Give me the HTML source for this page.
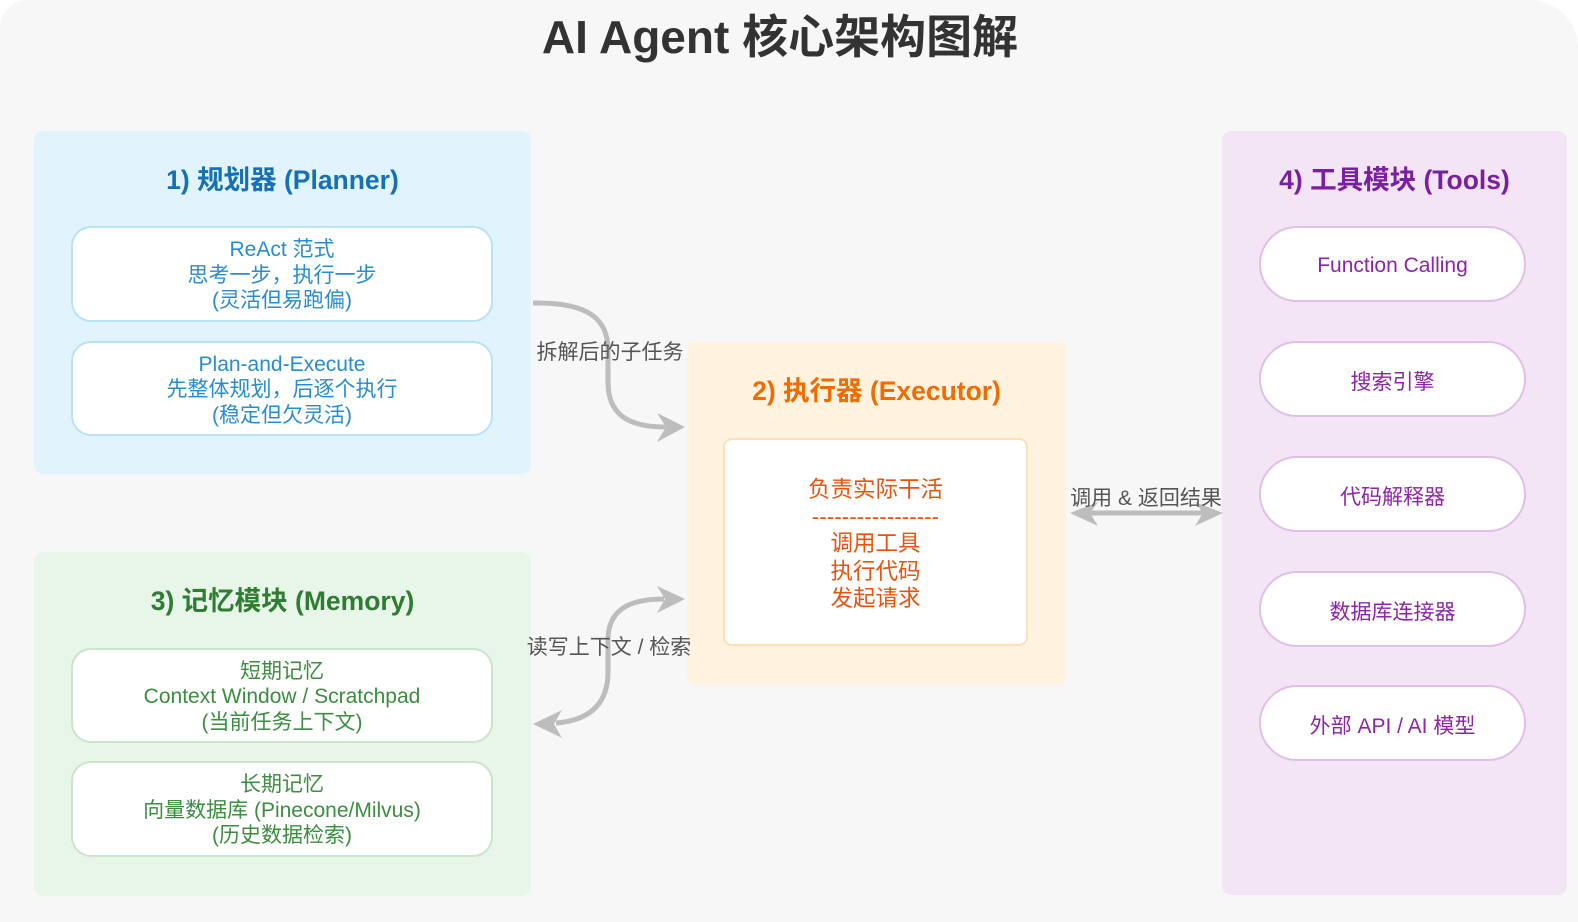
<!DOCTYPE html>
<html>
<head>
<meta charset="utf-8">
<style>
  html,body{margin:0;padding:0;background:#ffffff;}
  body{width:1578px;height:922px;position:relative;overflow:hidden;
    font-family:"Liberation Sans","Noto Sans CJK SC",sans-serif;}
  .container{position:absolute;left:0;top:0;width:1578px;height:922px;background:#f7f7f7;
    border-radius:28px 48px 0 0;}
  .title{position:absolute;left:0;top:10px;width:1560px;text-align:center;font-size:46px;font-weight:bold;
    color:#333333;line-height:54px;}
  .panel{position:absolute;border-radius:9px;}
  .ptitle{position:absolute;left:0;width:100%;text-align:center;font-weight:bold;font-size:26.5px;line-height:32px;}
  .box{position:absolute;background:#ffffff;border:2px solid;box-sizing:border-box;border-radius:20px;
    display:flex;flex-direction:column;justify-content:center;align-items:center;text-align:center;
    font-size:21px;line-height:25.5px;padding-top:3px;}
  .pill{position:absolute;left:37px;width:267px;height:76px;background:#fff;border:2px solid #e1bee7;
    box-sizing:border-box;border-radius:38px;display:flex;align-items:center;justify-content:center;
    font-size:21px;color:#8e24aa;padding-top:4px;}
</style>
</head>
<body>
<div class="container"></div>
<div class="title">AI Agent 核心架构图解</div>

<!-- Planner -->
<div class="panel" style="left:34px;top:131px;width:497px;height:343px;background:#e1f3fd;">
  <div class="ptitle" style="top:33px;color:#1670b5;">1) 规划器 (Planner)</div>
  <div class="box" style="left:37px;top:95px;width:422px;height:96px;border-color:#b8e2f8;color:#288cd2;">
    <div>ReAct 范式</div><div>思考一步，执行一步</div><div>(灵活但易跑偏)</div>
  </div>
  <div class="box" style="left:37px;top:210px;width:422px;height:95px;border-color:#b8e2f8;color:#288cd2;">
    <div>Plan-and-Execute</div><div>先整体规划，后逐个执行</div><div>(稳定但欠灵活)</div>
  </div>
</div>

<!-- Memory -->
<div class="panel" style="left:34px;top:552px;width:497px;height:344px;background:#e8f5e9;">
  <div class="ptitle" style="top:33px;color:#2e7d32;">3) 记忆模块 (Memory)</div>
  <div class="box" style="left:37px;top:96px;width:422px;height:95px;border-color:#c8e6c9;color:#3a8e3e;">
    <div>短期记忆</div><div>Context Window / Scratchpad</div><div>(当前任务上下文)</div>
  </div>
  <div class="box" style="left:37px;top:209px;width:422px;height:96px;border-color:#c8e6c9;color:#3a8e3e;">
    <div>长期记忆</div><div>向量数据库 (Pinecone/Milvus)</div><div>(历史数据检索)</div>
  </div>
</div>

<!-- Executor -->
<div class="panel" style="left:687px;top:342px;width:379px;height:343px;background:#fff3e0;">
  <div class="ptitle" style="top:33px;color:#ef6c00;">2) 执行器 (Executor)</div>
  <div class="box" style="left:36px;top:96px;width:305px;height:208px;border-color:#ffe0b2;border-radius:9px;color:#e8540f;font-size:22.5px;line-height:27.3px;padding-top:4px;">
    <div>负责实际干活</div><div>-----------------</div><div>调用工具</div><div>执行代码</div><div>发起请求</div>
  </div>
</div>

<!-- Tools -->
<div class="panel" style="left:1222px;top:131px;width:345px;height:764px;background:#f3e5f5;">
  <div class="ptitle" style="top:33px;color:#7b1fa2;">4) 工具模块 (Tools)</div>
  <div class="pill" style="top:95px;">Function Calling</div>
  <div class="pill" style="top:210px;">搜索引擎</div>
  <div class="pill" style="top:325px;">代码解释器</div>
  <div class="pill" style="top:440px;">数据库连接器</div>
  <div class="pill" style="top:554px;">外部 API / AI 模型</div>
</div>

<!-- Arrows and labels -->
<svg width="1578" height="922" style="position:absolute;left:0;top:0;" xmlns="http://www.w3.org/2000/svg">
  <g fill="none" stroke="#bdbdbd" stroke-width="5">
    <path d="M533,303 C590,302 608,320 608,350 L608,382 C608,413 626,427 666,427"/>
    <path d="M556,723 C594,720 608,700 608,672 L608,640 C608,612 626,599 664,599"/>
    <path d="M1090,513 L1203,513"/>
  </g>
  <g fill="#bdbdbd">
    <polygon points="685,427 657,413 666,427 657,442"/>
    <polygon points="685,599 657,586 665,599 657,613"/>
    <polygon points="533,724 562,710 554,724 562,738"/>
    <polygon points="1070,513 1098,502 1090,513 1098,526"/>
    <polygon points="1223,513 1195,502 1203,513 1195,526"/>
  </g>
  <g font-family="Liberation Sans, Noto Sans CJK SC, sans-serif" font-size="21" fill="#555555" text-anchor="middle">
    <text x="610" y="359">拆解后的子任务</text>
    <text x="609" y="654">读写上下文 / 检索</text>
    <text x="1146" y="505">调用 &amp; 返回结果</text>
  </g>
</svg>
</body>
</html>
